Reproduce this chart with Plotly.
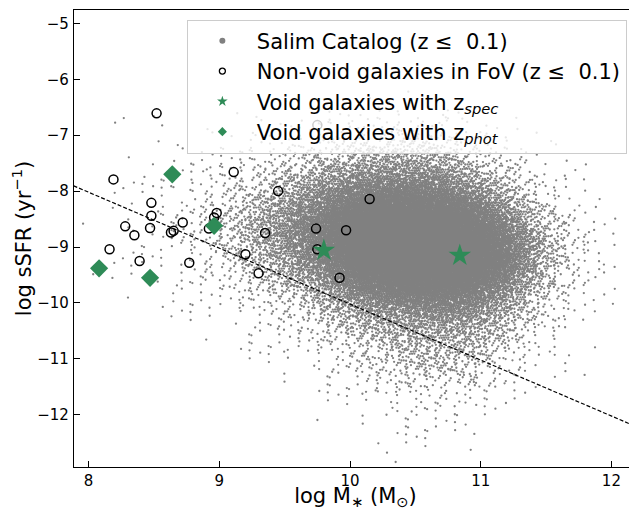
import numpy as np
import plotly.graph_objects as go

# ---------------- data ----------------
# Non-void galaxies in FoV (open circles)
nonvoid_logM = [8.52, 8.19, 9.11, 9.45, 10.15, 8.48, 8.48, 8.98, 8.96, 8.28, 8.47, 8.35,
                8.63, 8.65, 8.72, 8.92, 8.16, 8.39, 8.77, 9.20, 9.30, 9.35, 9.74, 9.97,
                9.75, 9.92, 9.75]
nonvoid_ssfr = [-6.61, -7.79, -7.66, -8.00, -8.14, -8.21, -8.44, -8.39, -8.47, -8.63, -8.66, -8.79,
                -8.74, -8.71, -8.56, -8.67, -9.04, -9.25, -9.28, -9.13, -9.47, -8.75, -8.67, -8.70,
                -9.04, -9.55, -6.82]

# Void galaxies with spectroscopic redshift (stars)
void_spec_logM = [9.80, 10.84]
void_spec_ssfr = [-9.06, -9.15]

# Void galaxies with photometric redshift (diamonds)
void_phot_logM = [8.64, 8.96, 8.08, 8.47]
void_phot_ssfr = [-7.70, -8.62, -9.38, -9.55]

# dashed separation line (end points)
line_logM = [7.80, 12.30]
line_ssfr = [-7.82, -12.32]

# Salim catalogue: approximate number of dots per cell
# cells: log M bins of 0.2 starting at 8.0; log sSFR bins of 0.25 starting at -6.25 going down
salim_logM_start, salim_logM_step = 8.0, 0.2
salim_ssfr_start, salim_ssfr_step = -6.25, 0.25
salim_counts_by_column = [
    [0,1,0,0,0,0,1,0,0,1,0,1,0,1,0,0,0,0,0,0,0,0,0,0,0,0,0],                       # 8.1
    [0,0,1,0,1,1,1,1,2,1,2,1,1,1,1,0,0,0,0,0,0,0,0,0,0,0,0],                       # 8.3
    [0,1,0,1,1,2,2,3,3,3,3,3,2,2,1,1,0,0,0,0,0,0,0,0,0,0,0],                       # 8.5
    [0,0,1,1,2,3,4,5,6,6,6,5,4,3,2,1,1,0,0,0,0,0,0,0,0,0,0],                       # 8.7
    [0,0,1,2,3,5,7,9,12,13,12,10,8,5,3,2,1,1,0,0,0,0,0,0,0,0,0],                   # 8.9
    [0,1,1,3,5,8,12,18,25,28,28,22,16,10,6,4,2,1,1,0,0,0,0,0,0,0,0],               # 9.1
    [0,1,2,4,8,14,22,35,50,58,58,46,32,20,12,8,4,3,2,1,0,0,0,0,0,0,0],             # 9.3
    [1,1,3,7,14,25,42,68,95,110,110,88,62,38,22,14,8,5,3,2,1,0,0,0,0,0,0],         # 9.5
    [1,2,5,11,22,42,75,120,170,200,200,165,115,72,42,25,14,8,5,3,2,1,0,0,0,0,0],   # 9.7
    [1,3,7,16,35,68,120,200,290,360,380,320,225,140,85,50,28,16,10,6,3,2,1,1,0,0,0],  # 9.9
    [1,4,10,22,48,90,165,280,440,580,660,600,430,270,155,85,48,30,19,11,6,4,2,1,1,0,0],  # 10.1
    [1,4,11,25,55,105,195,330,520,680,760,720,560,360,210,120,70,45,30,22,12,7,4,2,1,1,0],  # 10.3
    [1,4,11,25,55,105,195,330,520,700,800,780,640,430,250,140,84,56,38,27,15,8,5,3,2,1,1],  # 10.5
    [0,3,8,20,45,88,160,280,450,620,750,750,630,440,265,155,92,60,42,30,16,8,5,3,2,1,0],   # 10.7
    [0,1,5,13,28,56,105,195,330,490,620,650,550,390,235,140,84,56,38,27,14,7,4,2,1,1,0],   # 10.9
    [0,0,3,6,13,26,50,92,170,265,350,375,320,225,140,84,50,33,22,15,8,4,2,1,1,0,0],        # 11.1
    [0,0,1,3,6,11,20,38,68,110,145,160,140,100,65,40,24,15,10,6,3,2,1,0,0,0,0],            # 11.3
    [0,0,0,1,2,3,6,12,21,32,44,48,42,30,20,12,7,4,3,2,1,0,0,0,0,0,0],                      # 11.5
    [0,0,0,0,1,1,2,3,6,9,12,13,12,9,6,4,3,2,1,1,0,0,0,0,0,0,0],                            # 11.7
    [0,0,0,0,0,0,1,1,1,2,3,3,3,2,1,1,1,0,0,0,0,0,0,0,0,0,0],                               # 11.9
    [0,0,0,0,0,0,0,0,0,0,1,0,0,0,0,1,0,0,0,0,0,0,0,0,0,0,0],                               # 12.1
]

x_ticks = [8, 9, 10, 11, 12]
y_ticks = [-12, -11, -10, -9, -8, -7, -6, -5]

# ---------------- lay the counted dots out around their cell centres ----------------
# deterministic low-discrepancy layout with a tent kernel (neighbouring cells blend smoothly)
phi4 = 1.1673039782614187
alphas = [(1.0 / phi4 ** d) % 1 for d in range(1, 5)]
sx, sy = [], []
for i, col in enumerate(salim_counts_by_column):
    xc = salim_logM_start + (i + 0.5) * salim_logM_step
    for j, n in enumerate(col):
        if n == 0:
            continue
        yc = salim_ssfr_start - (j + 0.5) * salim_ssfr_step
        k = np.arange(1, n + 1)
        seeds = [((i * 37 + j * 11 + 7 * d) * 0.6180339887) % 1 for d in range(4)]
        q = [(seeds[d] + k * alphas[d]) % 1 for d in range(4)]
        sx.extend(xc + (q[0] + q[1] - 1.0) * salim_logM_step)
        sy.extend(yc + (q[2] + q[3] - 1.0) * salim_ssfr_step)

green = '#2E8B57'

fig = go.Figure()
fig.add_trace(go.Scatter(x=sx, y=sy, mode='markers', showlegend=False,
                         marker=dict(size=2.3, color='#808080', line=dict(width=0)),
                         hoverinfo='skip'))
fig.add_trace(go.Scatter(x=line_logM, y=line_ssfr, mode='lines', showlegend=False,
                         line=dict(color='black', width=1.2, dash='4px,2px')))
fig.add_trace(go.Scatter(x=nonvoid_logM, y=nonvoid_ssfr, mode='markers', showlegend=False,
                         marker=dict(symbol='circle-open', size=9, color='black',
                                     line=dict(width=1.5, color='black'))))
fig.add_trace(go.Scatter(x=void_spec_logM, y=void_spec_ssfr, mode='markers', showlegend=False,
                         marker=dict(symbol='star', size=17, color=green, line=dict(width=0))))
fig.add_trace(go.Scatter(x=void_phot_logM, y=void_phot_ssfr, mode='markers', showlegend=False,
                         marker=dict(symbol='diamond', size=14, color=green, line=dict(width=0))))

# legend entries
fig.add_trace(go.Scatter(x=[None], y=[None], mode='markers', name='Salim Catalog (z ≤  0.1)',
                         marker=dict(size=6, color='#808080')))
fig.add_trace(go.Scatter(x=[None], y=[None], mode='markers', name='Non-void galaxies in FoV (z ≤  0.1)',
                         marker=dict(symbol='circle-open', size=6, color='black',
                                     line=dict(width=1.3, color='black'))))
fig.add_trace(go.Scatter(x=[None], y=[None], mode='markers',
                         name='Void galaxies with z<sub><i>spec</i></sub>',
                         marker=dict(symbol='star', size=8, color=green)))
fig.add_trace(go.Scatter(x=[None], y=[None], mode='markers',
                         name='Void galaxies with z<sub><i>phot</i></sub>',
                         marker=dict(symbol='diamond', size=7, color=green)))

axis_common = dict(ticks='inside', ticklen=6, tickwidth=1.3, tickcolor='black',
                   showline=True, linecolor='black', linewidth=1.3, automargin=False,
                   showgrid=False, zeroline=False, tickfont=dict(size=15, color='black'))

# the page adds an 8 px body margin, so the figure is 8 px smaller and margins are shifted
fig.update_layout(
    width=629, height=502,
    margin=dict(l=66, r=0, t=2, b=42.5),
    paper_bgcolor='white', plot_bgcolor='white',
    font=dict(family='DejaVu Sans', color='black'),
    xaxis=dict(range=[7.888, 12.196], tickvals=x_ticks, mirror=True,
               title=dict(text='log M<sub>∗</sub> (M<sub>⊙</sub>)', font=dict(size=21), standoff=2),
               **axis_common),
    yaxis=dict(range=[-12.932, -4.762], tickvals=y_ticks, ticklabelstandoff=1,
               title=dict(text='log sSFR (yr<sup>−1</sup>)', font=dict(size=21), standoff=7),
               **axis_common),
    legend=dict(x=0.982, y=0.979, xanchor='right', yanchor='top',
                bgcolor='rgba(255,255,255,0.8)', bordercolor='#cccccc', borderwidth=1,
                font=dict(size=21, color='black'), itemwidth=59, tracegroupgap=0),
)

fig.write_html('out.html')
